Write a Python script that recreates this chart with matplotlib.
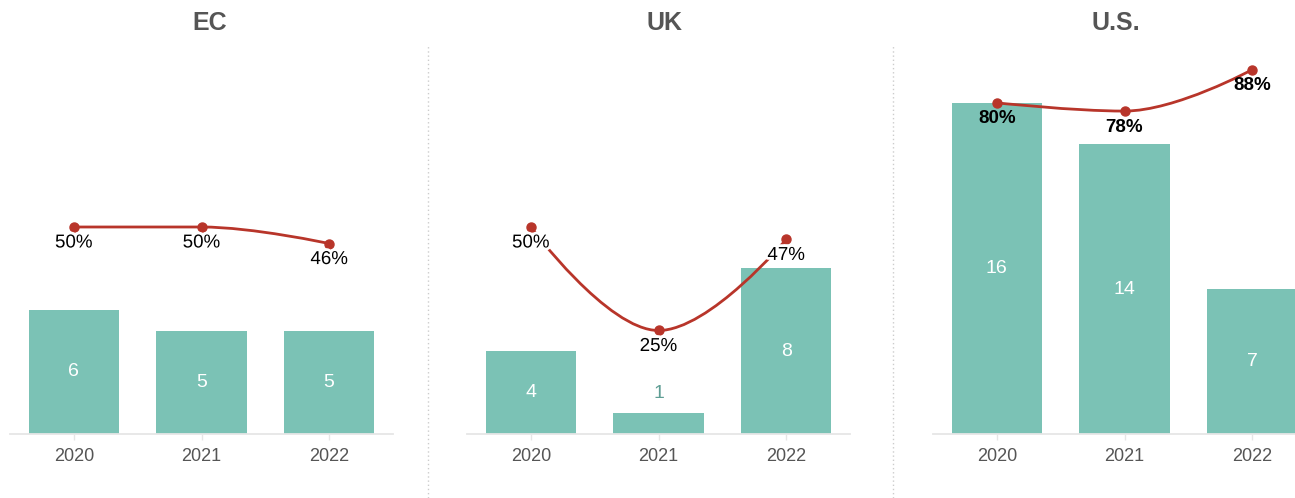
import matplotlib
matplotlib.use("Agg")                                                         # sem display
import matplotlib.pyplot as plt                                               # biblioteca para criação de gráficos
import matplotlib.patheffects as pe                                           # contorno branco dos rótulos
from matplotlib.path import Path                                              # curva suave da linha
from matplotlib.patches import PathPatch
from matplotlib.lines import Line2D

plt.rcParams['font.family'] = ['Liberation Sans', 'DejaVu Sans']

paineis = ["EC", "UK", "U.S."]                                                # títulos dos painéis
anos = ["2020", "2021", "2022"]                                               # categorias do eixo x

casos_ec = [6, 5, 5]                                                          # valores das barras
casos_uk = [4, 1, 8]
casos_us = [16, 14, 7]

pct_ec = [50, 50, 46]                                                         # valores da linha (%)
pct_uk = [50, 25, 47]
pct_us = [80, 78, 88]

COR_BARRA = "#7bc2b5"
COR_LINHA = "#b8352a"
COR_TEXTO = "#555555"
COR_EIXO = "#e6e6e6"


def caminho_spline(xs, ys, suavizacao=1.5):                                   # curva tipo spline (bezier cúbica)
    n = len(xs)
    dir_x = [None] * n
    dir_y = [None] * n
    verts = [(xs[0], ys[0])]
    codes = [Path.MOVETO]
    for i in range(1, n):
        px, py = xs[i], ys[i]
        esq_x, esq_y = px, py
        if i < n - 1:
            ax_, ay_ = xs[i - 1], ys[i - 1]
            bx_, by_ = xs[i + 1], ys[i + 1]
            den = suavizacao + 1
            esq_x = (suavizacao * px + ax_) / den
            esq_y = (suavizacao * py + ay_) / den
            rx = (suavizacao * px + bx_) / den
            ry = (suavizacao * py + by_) / den
            corr = ((ry - esq_y) * (rx - px)) / (rx - esq_x) + py - ry
            esq_y += corr
            ry += corr
            if esq_y > ay_ and esq_y > py:
                esq_y = max(ay_, py)
                ry = 2 * py - esq_y
            elif esq_y < ay_ and esq_y < py:
                esq_y = min(ay_, py)
                ry = 2 * py - esq_y
            if ry > by_ and ry > py:
                ry = max(by_, py)
                esq_y = 2 * py - ry
            elif ry < by_ and ry < py:
                ry = min(by_, py)
                esq_y = 2 * py - ry
            dir_x[i], dir_y[i] = rx, ry
        c1x = dir_x[i - 1] if dir_x[i - 1] is not None else xs[i - 1]
        c1y = dir_y[i - 1] if dir_y[i - 1] is not None else ys[i - 1]
        verts += [(c1x, c1y), (esq_x, esq_y), (px, py)]
        codes += [Path.CURVE4, Path.CURVE4, Path.CURVE4]
    return Path(verts, codes)


def desenhar_painel(fig, esquerda, casos, pct, negrito):                      # desenha um painel
    L, A = 1295, 498
    ax = fig.add_axes([esquerda / L, (A - 434) / A, 383 / L, 389 / A])
    ymax = 389 / 20.7
    x = list(range(len(anos)))

    ax.bar(x, casos, width=0.71, color=COR_BARRA, zorder=2)
    ax.set_xlim(-0.5, 2.5)
    ax.set_ylim(0, ymax)
    ax.set_xticks(x)
    ax.set_xticklabels(anos)
    ax.set_yticks([])
    for lado in ["top", "left", "right"]:
        ax.spines[lado].set_visible(False)
    ax.spines["bottom"].set_color(COR_EIXO)
    ax.spines["bottom"].set_linewidth(1.3)
    ax.tick_params(axis="x", colors=COR_EIXO, length=4, width=1, pad=6,
                   labelcolor=COR_TEXTO, labelsize=13)
    ax.set_facecolor("none")

    for xi, v in zip(x, casos):                                               # rótulos das barras
        if v >= 2:
            ax.text(xi, v / 2, str(v), ha="center", va="center",
                    color="white", fontsize=14, zorder=3)
        else:
            ax.annotate(str(v), (xi, v), xytext=(0, 20), textcoords="offset pixels",
                        ha="center", va="center", color="#5f9e94", fontsize=14)

    ax2 = ax.twinx()                                                          # eixo secundário em %
    ax2.set_ylim(0, ymax * 5)
    ax2.set_axis_off()
    ax2.add_patch(PathPatch(caminho_spline(x, pct), facecolor="none",
                            edgecolor=COR_LINHA, linewidth=2, zorder=4))
    ax2.plot(x, pct, "o", color=COR_LINHA, markersize=6.5, zorder=5)
    efeito = [] if negrito else [pe.withStroke(linewidth=4, foreground="white")]
    for xi, p in zip(x, pct):
        ax2.annotate(f"{p}%", (xi, p), xytext=(0, -16), textcoords="offset pixels",
                     ha="center", va="center", fontsize=13.5, color="black",
                     fontweight="bold" if negrito else "normal",
                     path_effects=efeito, zorder=6)
    return ax


def main():
    fig = plt.figure(figsize=(12.95, 4.98), dpi=100)

    dados = [(10, casos_ec, pct_ec, False),
             (467, casos_uk, pct_uk, False),
             (933, casos_us, pct_us, True)]
    for esquerda, casos, pct, negrito in dados:
        desenhar_painel(fig, esquerda, casos, pct, negrito)

    for titulo, cx in zip(paineis, [210, 664, 1116]):                         # títulos
        fig.text(cx / 1295, 1 - 23 / 498, titulo, ha="center", va="center",
                 fontsize=18, fontweight="bold", color=COR_TEXTO)

    for sx in [428, 893]:                                                     # separadores pontilhados
        fig.add_artist(Line2D([sx / 1295, sx / 1295], [0, 1 - 45 / 498],
                              color="#cccccc", linewidth=1, linestyle=(0, (1, 2))))

    fig.savefig("out.png", dpi=100)


main()
